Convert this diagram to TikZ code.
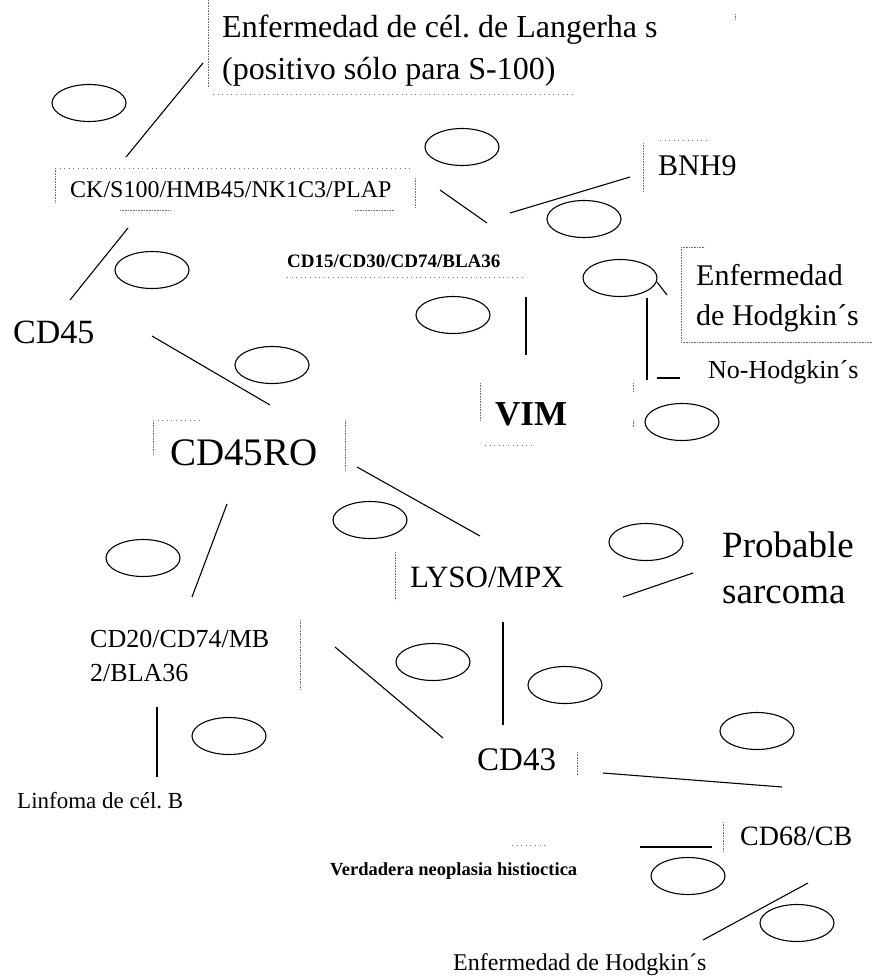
\documentclass[tikz,border=0pt]{standalone}
\usepackage{fontspec}
\setmainfont{Liberation Serif}
\usepackage{tikz}
\def\fs#1#2{\fontsize{#1}{#2}\selectfont}
% empty oval used as the yes/no mark beside each branch
\def\oval(#1,#2){\draw[oval] (#1,#2) ellipse [x radius=37pt, y radius=18.5pt];}
\tikzset{
	oval/.style={line width=1.1pt},
	link/.style={line width=1.1pt},
	frag/.style={densely dotted, line width=0.6pt, black!55},
	lbl/.style={inner sep=0pt, anchor=base west, align=left}
}

\begin{document}
\begin{tikzpicture}[x=1pt,y=-1pt]
			\useasboundingbox (0,0) rectangle (873,978);
			%%%%% TEXTS (base = last line) %%%%%
			\node[lbl, font=\fs{32}{42}] (lang) at (222,79) {Enfermedad de cél.\ de Langerha s\\(positivo sólo para S-100)};
			\node[lbl, font=\fs{24}{28}] (ck) at (70,197) {CK/S100/HMB45/NK1C3/PLAP};
			\node[lbl, font=\fs{30}{34}] (bnh) at (658,175) {BNH9};
			\node[lbl, font=\fs{19}{22}\bfseries] (cdfifteen) at (287,267) {CD15/CD30/CD74/BLA36};
			\node[lbl, font=\fs{30}{40}] (hodg) at (696,325) {Enfermedad\\de Hodgkin´s};
			\node[lbl, font=\fs{26}{30}] (nohodg) at (708,378) {No-Hodgkin´s};
			\node[lbl, font=\fs{34}{38}] (cdfortyfive) at (13,343) {CD45};
			\node[lbl, font=\fs{35}{40}\bfseries] (vim) at (495,425) {VIM};
			\node[lbl, font=\fs{39}{44}] (cdro) at (170,465) {CD45RO};
			\node[lbl, font=\fs{31}{34}] (lyso) at (410,587) {LYSO/MPX};
			\node[lbl, font=\fs{37}{46}] (prob) at (722,603) {Probable\\sarcoma};
			\node[lbl, font=\fs{26}{34}] (cdtwenty) at (90,681) {CD20/CD74/MB\\2/BLA36};
			\node[lbl, font=\fs{23}{27}] (linf) at (17,808) {Linfoma de cél.\ B};
			\node[lbl, font=\fs{33}{38}] (cdfortythree) at (477,770) {CD43};
			\node[lbl, font=\fs{28}{32}] (cdsixtyeight) at (740,845) {CD68/CB};
			\node[lbl, font=\fs{18.5}{22}\bfseries] (verd) at (330,875) {Verdadera neoplasia histioctica};
			\node[lbl, font=\fs{24}{28}] (hodgb) at (453,970) {Enfermedad de Hodgkin´s};
			
			%%%%% BRANCHES %%%%%
			\draw[link] (126,157) -- (203,63);
			\draw[link] (128,228) -- (70,300);
			\draw[link] (152,336) -- (270,405);
			\draw[link] (440,190) -- (487,223);
			\draw[link] (510,213) -- (630,177);
			\draw[link] (526,297) -- (526,355);
			\draw[link] (657,282) -- (667,295);
			\draw[link, line width=1.6pt] (647,298) -- (647,380);
			\draw[link] (657,378) -- (680,378);
			\draw[link] (357,467) -- (480,536);
			\draw[link] (227,504) -- (192,597);
			\draw[link] (623,597) -- (693,573);
			\draw[link] (503,622) -- (503,725);
			\draw[link] (335,647) -- (443,738);
			\draw[link, line width=1.5pt] (157,707) -- (157,777);
			\draw[link] (603,773) -- (782,787);
			\draw[link] (640,847) -- (712,847);
			\draw[link] (703,940) -- (808,883);
			
			%%%%% OVALS %%%%%
			\oval(89,103)
			\oval(152,270)
			\oval(462,147)
			\oval(584,219)
			\oval(620,278)
			\oval(453,315)
			\oval(272,365)
			\oval(682,422)
			\oval(370,520)
			\oval(646,542)
			\oval(143,558)
			\oval(433,662)
			\oval(565,685)
			\oval(229,736)
			\oval(757,731)
			\oval(688,876)
			\oval(797,923)
			
			%%%%% BOX EDGES (faint) %%%%%
			\draw[frag] (208,0) -- (208,88);
			\draw[frag, loosely dotted] (213,94) -- (575,94);
			\draw[frag] (735,14) -- (735,20);
			\draw[frag, loosely dotted] (55,168) -- (410,168);
			\draw[frag] (55,168) -- (55,202);
			\draw[frag] (415,178) -- (415,208);
			\draw[frag] (120,210) -- (170,210);
			\draw[frag] (355,210) -- (395,210);
			\draw[frag, loosely dotted] (287,277) -- (525,277);
			\draw[frag] (643,143) -- (643,192);
			\draw[frag, loosely dotted] (660,140) -- (710,140);
			\draw[frag] (681,247) -- (681,340);
			\draw[frag] (681,247) -- (705,247);
			\draw[frag] (681,342) -- (873,342);
			\draw[frag] (480,383) -- (480,420);
			\draw[frag, loosely dotted] (485,445) -- (535,445);
			\draw[frag] (633,383) -- (633,392);
			\draw[frag] (633,420) -- (633,427);
			\draw[frag] (153,420) -- (153,455);
			\draw[frag, loosely dotted] (153,420) -- (200,420);
			\draw[frag] (345,420) -- (345,470);
			\draw[frag] (395,552) -- (395,600);
			\draw[frag] (300,620) -- (300,690);
			\draw[frag] (577,752) -- (577,775);
			\draw[frag] (723,822) -- (723,852);
			\draw[frag, loosely dotted] (512,845) -- (547,845);
		\end{tikzpicture}
\end{document}
